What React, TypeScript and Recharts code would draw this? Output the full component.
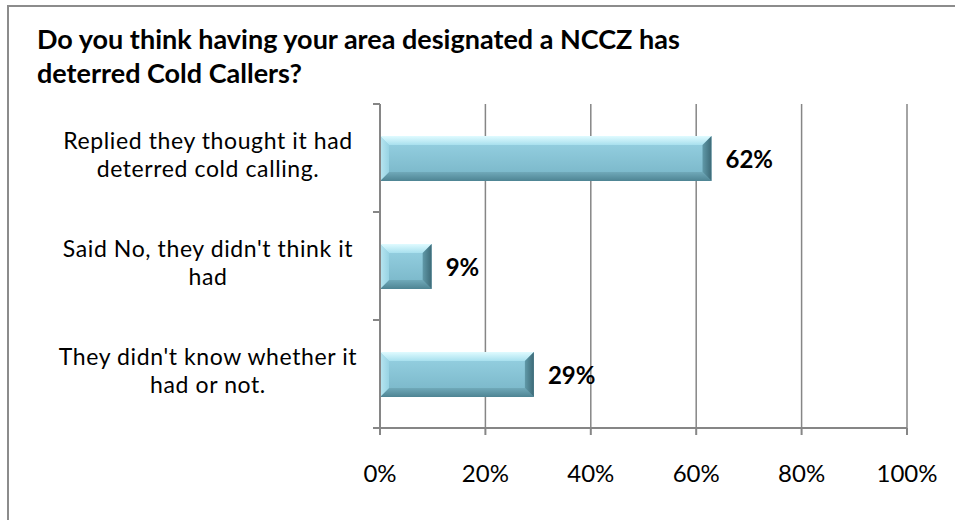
import React from "react";
import { BarChart, Bar, XAxis, YAxis, CartesianGrid, LabelList } from "recharts";

const titleLines = [
  "Do you think having your area designated a NCCZ has",
  "deterred Cold Callers?",
];
const categories = [
  "Replied they thought it had\ndeterred cold calling.",
  "Said No, they didn't think it\nhad",
  "They didn't know whether it\nhad or not.",
];
const values = [62.9, 9.8, 29.2];
const valueLabels = ["62%", "9%", "29%"];
const xTicks = [0, 20, 40, 60, 80, 100];

const data = categories.map((name, i) => ({ name, value: values[i], label: valueLabels[i] }));

const GRID = "#868686";
const FONT = "Lato, 'Open Sans', sans-serif";
const LABEL_SIZE = 24;
const CAT_SIZE = 23;

const BevelBar = (props: any) => {
  const { x, y, width, height } = props;
  if (!width || width <= 0) return null;
  const b = Math.min(9, width / 2, height / 2);
  const r = x + width;
  const bt = y + height;
  return (
    <g>
      <rect x={x} y={y} width={width} height={height} fill="url(#face)" />
      <polygon points={`${x},${y} ${r},${y} ${r - b},${y + b} ${x + b},${y + b}`} fill="url(#topBevel)" />
      <polygon points={`${x},${bt} ${r},${bt} ${r - b},${bt - b} ${x + b},${bt - b}`} fill="url(#botBevel)" />
      <polygon points={`${x},${y} ${x + b},${y + b} ${x + b},${bt - b} ${x},${bt}`} fill="url(#leftBevel)" />
      <polygon points={`${r},${y} ${r - b},${y + b} ${r - b},${bt - b} ${r},${bt}`} fill="url(#rightBevel)" />
    </g>
  );
};

const CatTick = (props: any) => {
  const { x, y, payload, index, visibleTicksCount } = props;
  const lines = String(payload.value).split("\n");
  const half = payload.offset ?? 0;
  const count = visibleTicksCount ?? categories.length;
  const lh = 28;
  return (
    <g>
      {lines.map((l, i) => (
        <text
          key={i}
          x={x - 172}
          y={y + (i - (lines.length - 1) / 2) * lh + 5}
          textAnchor="middle"
          fontFamily={FONT}
          fontSize={CAT_SIZE}
          letterSpacing={0.6}
          fill="#000"
        >
          {l}
        </text>
      ))}
      <line x1={x - 7} x2={x} y1={y - half} y2={y - half} stroke={GRID} strokeWidth={2} />
      {index === count - 1 && (
        <line x1={x - 7} x2={x} y1={y + half} y2={y + half} stroke={GRID} strokeWidth={2} />
      )}
    </g>
  );
};

const ValueLabel = (p: any) => (
  <text
    x={p.x + p.width + 14}
    y={p.y + p.height / 2}
    dominantBaseline="central"
    fontFamily={FONT}
    fontWeight="bold"
    fontSize={LABEL_SIZE}
    fill="#000"
  >
    {p.value}
  </text>
);

export default function App() {
  return (
    <div style={{ position: "absolute", left: 0, top: 0, width: 955, height: 520, overflow: "hidden", background: "#fff" }}>
      <div
        style={{
          position: "absolute",
          left: 7,
          top: 5,
          width: 980,
          height: 560,
          border: "2px solid #8c8c8c",
          boxSizing: "border-box",
        }}
      />
      <div style={{ position: "absolute", left: 0, top: 0 }}>
        <BarChart
          width={955}
          height={520}
          data={data}
          layout="vertical"
          margin={{ top: 104, right: 48, bottom: 0, left: 0 }}
        >
          <defs>
            <linearGradient id="face" x1="0" y1="0" x2="0" y2="1">
              <stop offset="0" stopColor="#98d3e4" />
              <stop offset="1" stopColor="#77b4c6" />
            </linearGradient>
            <linearGradient id="topBevel" x1="0" y1="0" x2="0" y2="1">
              <stop offset="0" stopColor="#e0fbff" />
              <stop offset="1" stopColor="#a8e0ee" />
            </linearGradient>
            <linearGradient id="botBevel" x1="0" y1="0" x2="0" y2="1">
              <stop offset="0" stopColor="#70a9b9" />
              <stop offset="1" stopColor="#4e8493" />
            </linearGradient>
            <linearGradient id="leftBevel" x1="0" y1="0" x2="1" y2="0">
              <stop offset="0" stopColor="#b8e6f1" />
              <stop offset="1" stopColor="#98d3e3" />
            </linearGradient>
            <linearGradient id="rightBevel" x1="0" y1="0" x2="1" y2="0">
              <stop offset="0" stopColor="#6099a8" />
              <stop offset="1" stopColor="#3d6a77" />
            </linearGradient>
          </defs>
          <CartesianGrid horizontal={false} stroke={GRID} strokeWidth={1.5} />
          <XAxis
            type="number"
            domain={[0, 100]}
            ticks={xTicks}
            tickFormatter={(v: number) => `${v}%`}
            height={92}
            axisLine={{ stroke: GRID, strokeWidth: 2 }}
            tickLine={{ stroke: GRID, strokeWidth: 2 }}
            tickSize={7}
            tickMargin={30}
            tick={{ fill: "#000", fontSize: LABEL_SIZE, fontFamily: FONT }}
            interval={0}
          />
          <YAxis
            type="category"
            dataKey="name"
            width={380}
            axisLine={{ stroke: GRID, strokeWidth: 2 }}
            tickLine={false}
            tickSize={0}
            tickMargin={0}
            tick={<CatTick />}
            interval={0}
          />
          <Bar dataKey="value" barSize={45} shape={<BevelBar />} isAnimationActive={false}>
            <LabelList dataKey="label" content={<ValueLabel />} />
          </Bar>
        </BarChart>
      </div>
      <svg width={955} height={110} style={{ position: "absolute", left: 0, top: 0, pointerEvents: "none" }}>
        <text fontFamily={FONT} fontWeight="bold" fontSize={27} fill="#000">
          <tspan x={37} y={49}>{titleLines[0]}</tspan>
          <tspan x={37} y={83}>{titleLines[1]}</tspan>
        </text>
      </svg>
    </div>
  );
}
